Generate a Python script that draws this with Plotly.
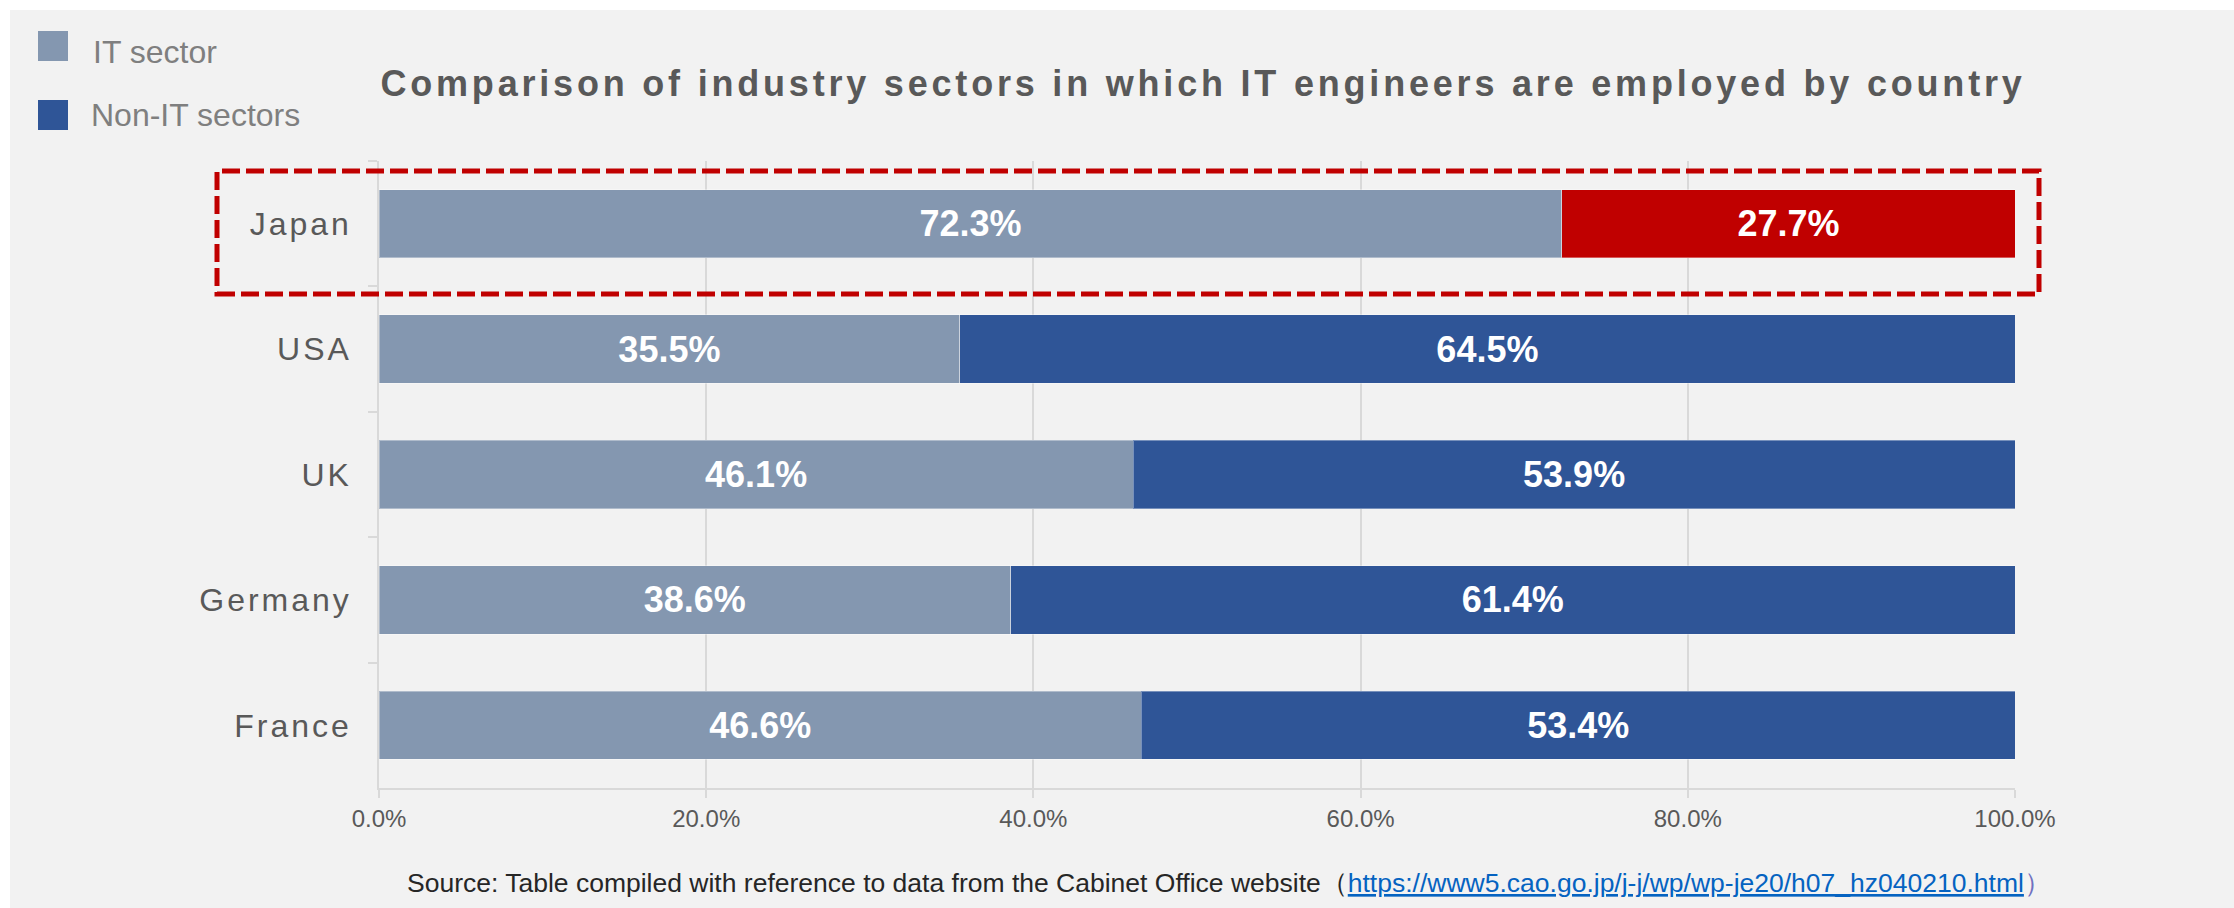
import plotly.graph_objects as go

# ---- data -------------------------------------------------------------
countries = ["Japan", "USA", "UK", "Germany", "France"]
it_sector = [72.3, 35.5, 46.1, 38.6, 46.6]
non_it_sectors = [27.7, 64.5, 53.9, 61.4, 53.4]
series_names = ["IT sector", "Non-IT sectors"]
x_ticks = [0, 20, 40, 60, 80, 100]
x_tick_labels = ["0.0%", "20.0%", "40.0%", "60.0%", "80.0%", "100.0%"]
highlight_country = "Japan"

title_text = "Comparison of industry sectors in which IT engineers are employed by country"
source_text = "Source: Table compiled with reference to data from the Cabinet Office website"
source_url = "https://www5.cao.go.jp/j-j/wp/wp-je20/h07_hz040210.html"

# ---- layout geometry (pixels) ----------------------------------------
W, H = 2234, 908
L, R, T, B = 379, 219, 161, 120
PW = W - L - R
PH = H - T - B


def px(x):
    """pixel x -> paper x"""
    return (x - L) / PW


def py(y):
    """pixel y (from top) -> paper y"""
    return (H - B - y) / PH


FONT = "Liberation Sans, Arial, sans-serif"
IT_COLOR = "#8497B0"
NON_IT_COLOR = "#2F5597"
RED = "#C00000"
GRID = "#D9D9D9"
BG = "#F2F2F2"
TEXT_GRAY = "#595959"

non_it_colors = [RED if c == highlight_country else NON_IT_COLOR for c in countries]

label_font = dict(family=FONT, size=36, color="white", weight="bold")
edge = dict(width=1, color="rgba(255,255,255,0.35)")

fig = go.Figure()
fig.add_bar(
    y=countries, x=it_sector, orientation="h", name=series_names[0],
    marker=dict(color=IT_COLOR, line=edge),
    text=[f"{v:.1f}%" for v in it_sector],
    textposition="inside", insidetextanchor="middle", textangle=0,
    textfont=label_font, constraintext="none",
    hoverinfo="skip", showlegend=False,
)
fig.add_bar(
    y=countries, x=non_it_sectors, orientation="h", name=series_names[1],
    marker=dict(color=non_it_colors, line=edge),
    text=[f"{v:.1f}%" for v in non_it_sectors],
    textposition="inside", insidetextanchor="middle", textangle=0,
    textfont=label_font, constraintext="none",
    hoverinfo="skip", showlegend=False,
)

shapes = [
    # panel background
    dict(type="rect", xref="paper", yref="paper",
         x0=px(10), x1=px(W + 5), y0=py(H + 5), y1=py(10),
         fillcolor=BG, line=dict(width=0), layer="below"),
    # dashed highlight around the Japan row
    dict(type="rect", xref="paper", yref="paper",
         x0=px(217), x1=px(2039), y0=py(294), y1=py(171),
         line=dict(color=RED, width=5, dash="18px,6px"),
         fillcolor="rgba(0,0,0,0)", layer="above"),
]

# manual legend (large square swatches): name, colour, swatch centre, text centre, text x
legend_rows = [
    (series_names[0], IT_COLOR, 46, 52, 91),
    (series_names[1], NON_IT_COLOR, 115, 115, 89),
]
annotations = []
for name, color, sy, ty, tx in legend_rows:
    shapes.append(dict(type="rect", xref="paper", yref="paper",
                       x0=px(38), x1=px(68), y0=py(sy + 15), y1=py(sy - 15),
                       fillcolor=color, line=dict(width=0)))
    annotations.append(dict(xref="paper", yref="paper", x=px(tx), y=py(ty),
                            xanchor="left", yanchor="middle", showarrow=False,
                            text=name, font=dict(family=FONT, size=32, color="#7F7F7F")))

annotations.append(dict(
    xref="paper", yref="paper", x=px(405), y=py(883),
    xanchor="left", yanchor="middle", showarrow=False,
    text=(source_text + "（<span style='color:#0563C1'><u>" + source_url +
          "</u></span><span style='color:#7070C0'>）</span>"),
    font=dict(family=FONT, size=26.5, color="#262626"),
))

fig.update_layout(
    width=W, height=H,
    margin=dict(l=L, r=R, t=T, b=B, autoexpand=False),
    paper_bgcolor="white", plot_bgcolor=BG,
    barmode="stack", bargap=0.455,
    title=dict(text=title_text, x=1203 / W, xanchor="center",
               y=1 - 83.5 / H, yanchor="middle", yref="container",
               font=dict(family=FONT, size=36, color=TEXT_GRAY, weight="bold")),
    xaxis=dict(range=[0, 100], tickmode="array", tickvals=x_ticks, ticktext=x_tick_labels,
               showgrid=True, gridcolor=GRID, gridwidth=1.5, zeroline=False,
               showline=True, linecolor=GRID, linewidth=1.5,
               ticks="outside", ticklen=8, tickcolor=GRID, tickwidth=1.5,
               tickfont=dict(family=FONT, size=24, color=TEXT_GRAY),
               fixedrange=True),
    yaxis=dict(categoryorder="array", categoryarray=countries, autorange="reversed",
               showgrid=False, showline=True, linecolor=GRID, linewidth=1.5,
               ticks="outside", tickson="boundaries", ticklen=9, tickcolor=GRID,
               tickwidth=1.5, ticklabelstandoff=19,
               tickfont=dict(family=FONT, size=32, color=TEXT_GRAY),
               fixedrange=True),
    shapes=shapes,
    annotations=annotations,
    showlegend=False,
)

# letter-spaced title and category labels
spacing_js = """
var gd = document.getElementById('{plot_id}');
function spaceText() {
  gd.querySelectorAll('.ytick text').forEach(function (t) { t.style.letterSpacing = '3px'; });
  var ttl = gd.querySelector('.gtitle');
  if (ttl) { ttl.style.letterSpacing = '3.8px'; }
}
spaceText();
gd.on('plotly_afterplot', spaceText);
"""

fig.write_html("out.html", post_script=spacing_js, config={"displayModeBar": False})
